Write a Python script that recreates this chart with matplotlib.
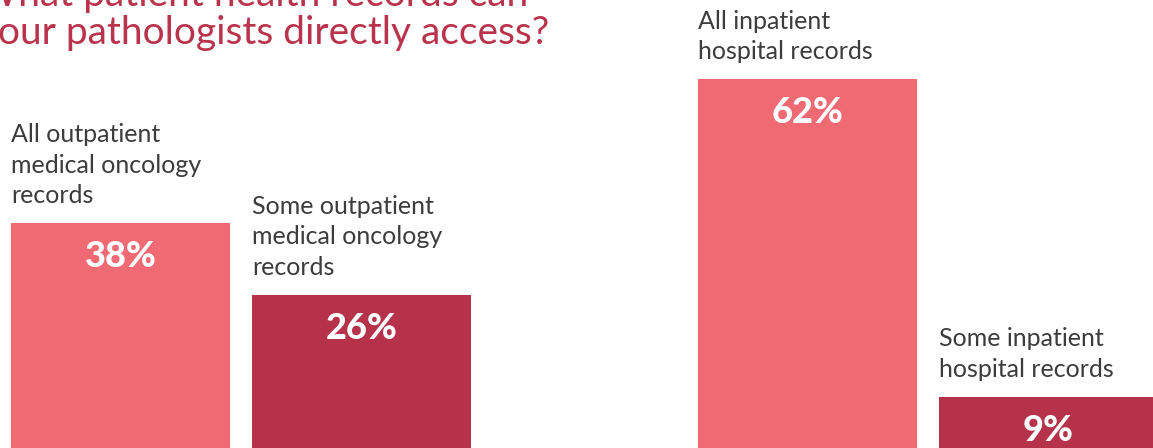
import matplotlib
matplotlib.use("Agg")
import matplotlib.pyplot as plt
import numpy as np

# Data
categories = [
    "All outpatient\nmedical oncology\nrecords",
    "Some outpatient\nmedical oncology\nrecords",
    "All inpatient\nhospital records",
    "Some inpatient\nhospital records",
]
values = [38, 26, 62, 9]
title = "What patient health records can\nyour pathologists directly access?"

LIGHT = "#f06a74"
DARK = "#b5324a"
colors = [LIGHT, DARK, LIGHT, DARK]
TEXT = "#3c3c3c"

plt.rcParams["font.family"] = ["Lato", "DejaVu Sans"]

fig = plt.figure(figsize=(11.53, 4.48), dpi=100)
ax = fig.add_axes([0, 0, 1, 1])
ax.axis("off")

# two groups of two bars, second group shifted right
group_gap = 0.85
x = np.array([0, 1, 2 + group_gap, 3 + group_gap])
width = 0.909

bars = ax.bar(x, values, width=width, color=colors, linewidth=0)
ax.set_xlim(-0.5, 4.284)
ax.set_ylim(0.5, 75.2)

for xi, v, lab in zip(x, values, categories):
    # category label, left aligned above the bar
    ax.annotate(lab, xy=(xi - width / 2, v), xytext=(0, 11.5),
                textcoords="offset points", ha="left", va="bottom",
                fontsize=18, color=TEXT, linespacing=1.4)
    # percentage inside the bar
    ax.annotate(f"{v}%", xy=(xi, v), xytext=(0, -12),
                textcoords="offset points", ha="center", va="top",
                fontsize=26, fontweight="black", color="white")

fig.text(-0.019, 0.902, title, ha="left", va="baseline",
         fontsize=28, color="#b8334b", linespacing=1.07)

fig.savefig("out.png", dpi=100)
